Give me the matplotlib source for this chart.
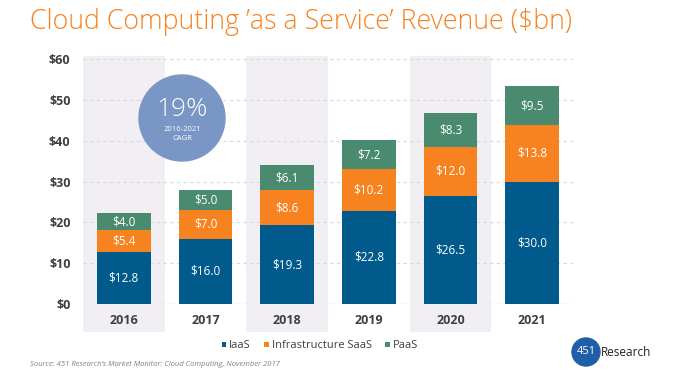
import matplotlib
matplotlib.use("Agg")
import matplotlib.pyplot as plt
from matplotlib.patches import Ellipse
import numpy as np

years = ["2016", "2017", "2018", "2019", "2020", "2021"]
iaas = [12.8, 16.0, 19.3, 22.8, 26.5, 30.0]
saas = [5.4, 7.0, 8.6, 10.2, 12.0, 13.8]
paas = [4.0, 5.0, 6.1, 7.2, 8.3, 9.5]
series_names = ["IaaS", "Infrastructure SaaS", "PaaS"]
yticks = [0, 10, 20, 30, 40, 50, 60]

C_IAAS = "#005a8b"
C_SAAS = "#f68220"
C_PAAS = "#4a8b6f"
BAND = "#f1eff3"
TXT = "#3f3f3f"

plt.rcParams['font.family'] = ['Open Sans', 'DejaVu Sans']

W, H = 682, 380
fig = plt.figure(figsize=(W / 100, H / 100), dpi=100)
fig.patch.set_facecolor("white")

ax = fig.add_axes([83 / W, 1 - 304 / H, (573 - 83) / W, (304 - 59) / H])
ax.set_xlim(-0.5, 5.5)
ax.set_ylim(0, 60)
ax.set_facecolor("none")

ax_h = 304 - 59
for i in range(0, len(years), 2):
    ax.axvspan(i - 0.5, i + 0.5, ymin=-(332 - 304) / ax_h, ymax=(304 - 56) / ax_h,
               color=BAND, clip_on=False, zorder=0, lw=0)

for t in yticks[1:]:
    ax.axhline(t, color="#d9d9d9", lw=0.8, ls=(0, (3, 3)), zorder=1)
ax.axhline(0, color="#e3e3e3", lw=1.0, zorder=1)

x = np.arange(len(years))
bw = 0.66
b1 = ax.bar(x, iaas, bw, color=C_IAAS, zorder=2, label=series_names[0])
b2 = ax.bar(x, saas, bw, bottom=iaas, color=C_SAAS, zorder=2, label=series_names[1])
bottom3 = [a + b for a, b in zip(iaas, saas)]
b3 = ax.bar(x, paas, bw, bottom=bottom3, color=C_PAAS, zorder=2, label=series_names[2])

for i in range(len(years)):
    ax.text(x[i], iaas[i] / 2, f"${iaas[i]:.1f}", ha="center", va="center",
            color="white", fontsize=8.5, zorder=3)
    ax.text(x[i], iaas[i] + saas[i] / 2, f"${saas[i]:.1f}", ha="center", va="center",
            color="white", fontsize=8.5, zorder=3)
    ax.text(x[i], bottom3[i] + paas[i] / 2, f"${paas[i]:.1f}", ha="center", va="center",
            color="white", fontsize=8.5, zorder=3)

ax.set_yticks(yticks)
ax.set_yticklabels([f"${t}" for t in yticks], fontsize=9, fontweight="bold", color=TXT)
ax.set_xticks(x)
ax.set_xticklabels(years, fontsize=9, fontweight="bold", color=TXT)
ax.tick_params(axis="both", length=0)
ax.tick_params(axis="y", pad=9)
ax.tick_params(axis="x", pad=7)
for s in ax.spines.values():
    s.set_visible(False)

# CAGR circle
cx, cy, r = 182, 118, 43
fig.patches.append(Ellipse((cx / W, 1 - cy / H), 2 * r / W, 2 * r / H,
                           transform=fig.transFigure, color="#7a96c4", zorder=5))
fig.text(cx / W, 1 - (cy - 9) / H, "19%", ha="center", va="center", color="white",
         fontsize=19, fontweight="light", zorder=6)
fig.text(cx / W, 1 - (cy + 11) / H, "2016-2021", ha="center", va="center", color="white",
         fontsize=5.5, zorder=6)
fig.text(cx / W, 1 - (cy + 20) / H, "CAGR", ha="center", va="center", color="white",
         fontsize=5.5, zorder=6)

fig.text(30 / W, 1 - 22 / H, "Cloud Computing \u2019as a Service\u2019 Revenue ($bn)",
         ha="left", va="center", color="#f68220", fontsize=19.3, fontweight="light")

fig.legend(handles=[b1, b2, b3], labels=series_names, loc="center",
           bbox_to_anchor=(320 / W, 1 - 346 / H), ncol=3, frameon=False,
           fontsize=8, handlelength=0.4, handleheight=0.4, handletextpad=0.3,
           columnspacing=1.2, labelcolor=TXT)

fig.text(30 / W, 1 - 365 / H,
         "Source: 451 Research\u2019s Market Monitor: Cloud Computing, November 2017",
         ha="left", va="center", color="#808080", fontsize=5.5, style="italic")

r2 = 14
fig.patches.append(Ellipse((586 / W, 1 - 352 / H), 2 * r2 / W, 2 * r2 / H,
                           transform=fig.transFigure, color="#1f5ea8", zorder=5))
fig.text(586 / W, 1 - 352 / H, "451", ha="center", va="center", color="white",
         fontsize=8, zorder=6)
fig.text(601 / W, 1 - 352 / H, "Research", ha="left", va="center", color="#222222",
         fontsize=8.5)

fig.savefig("out.png", dpi=100)
